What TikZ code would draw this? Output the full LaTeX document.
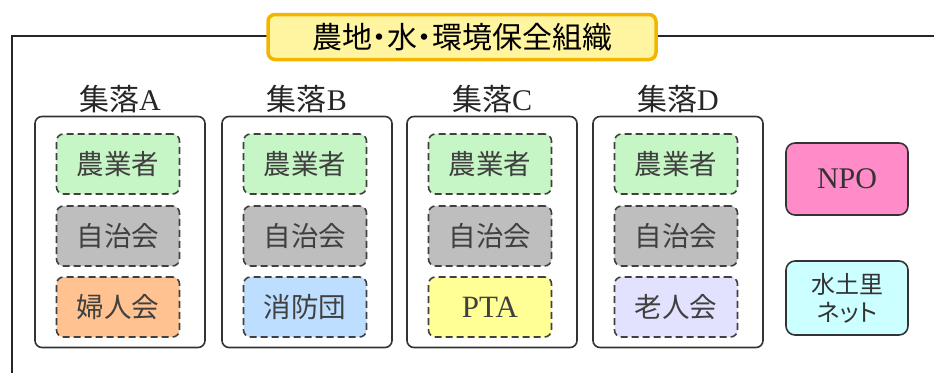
\documentclass[tikz,border=0pt]{standalone}
\usepackage{fontspec}
\setmainfont{Liberation Serif}
\newfontfamily\jp{Noto Sans CJK JP}
\definecolor{farmgreen}{RGB}{198,245,198}
\definecolor{selfgray}{RGB}{190,190,190}
\definecolor{womenorange}{RGB}{255,194,144}
\definecolor{fireblue}{RGB}{190,222,255}
\definecolor{ptayellow}{RGB}{255,255,150}
\definecolor{elderlilac}{RGB}{226,226,255}
\definecolor{npopink}{RGB}{255,140,200}
\definecolor{netcyan}{RGB}{204,255,255}
\definecolor{titlefill}{RGB}{255,245,160}
\definecolor{titlegold}{RGB}{242,182,0}
\tikzset{
  >=latex,
}
\tikzstyle{frame}=[line width=1.5pt,black!85]
\tikzstyle{title}=[draw=titlegold,line width=3.5pt,fill=titlefill,rounded corners=7pt,
  minimum width=388pt,minimum height=45pt,inner xsep=0pt,font=\jp\fontsize{30}{32}\selectfont]
\tikzstyle{village}=[draw=black!80,line width=1.6pt,rounded corners=7pt,
  minimum width=170pt,minimum height=231pt]
\tikzstyle{vlabel}=[font=\fontsize{30}{32}\selectfont,text=black!85,inner sep=0pt]
\tikzstyle{member}=[draw=black!75,line width=1.6pt,dash pattern=on 7pt off 4pt,rounded corners=7pt,
  minimum width=123pt,minimum height=60pt,text=black!75,font=\jp\fontsize{27.5}{30}\selectfont]
\tikzstyle{outside}=[draw=black!80,line width=1.6pt,rounded corners=9pt,
  minimum width=122pt,text=black!80]

\begin{document}
\begin{tikzpicture}[x=1pt,y=-1pt]
  \useasboundingbox (0,0) rectangle (934,372);
  \draw[frame] (12,380) -- (12,36) -- (940,36);
  \node[title] (org) at (462,37) {農地\kern-.25em・\kern-.25em水\kern-.25em・\kern-.25em環境保全組織};
  % villages
  \foreach \v/\x/\third/\col in {A/120/婦人会/womenorange,B/307/消防団/fireblue,
      C/492/\rmfamily\fontsize{31}{32}\selectfont PTA/ptayellow,D/678/老人会/elderlilac}{
    \node[village] (box\v) at (\x,232) {};
    \node[vlabel] (lab\v) at (\x,99) {{\jp 集落}\v};
    \node[member,fill=farmgreen] (farm\v) at (\x-2,164) {農業者};
    \node[member,fill=selfgray] (self\v) at (\x-2,236) {自治会};
    \node[member,fill=\col] (third\v) at (\x-2,307) {\third};
  }
  \node[outside,fill=npopink,minimum height=72pt,font=\fontsize{30}{32}\selectfont] (npo) at (847,179) {NPO};
  \node[outside,fill=netcyan,minimum height=74pt,align=center,
    font=\jp\addfontfeatures{RawFeature=+palt}\fontsize{24}{28}\selectfont] (net) at (847,298) {水土里\\ネット};
\end{tikzpicture}
\end{document}
